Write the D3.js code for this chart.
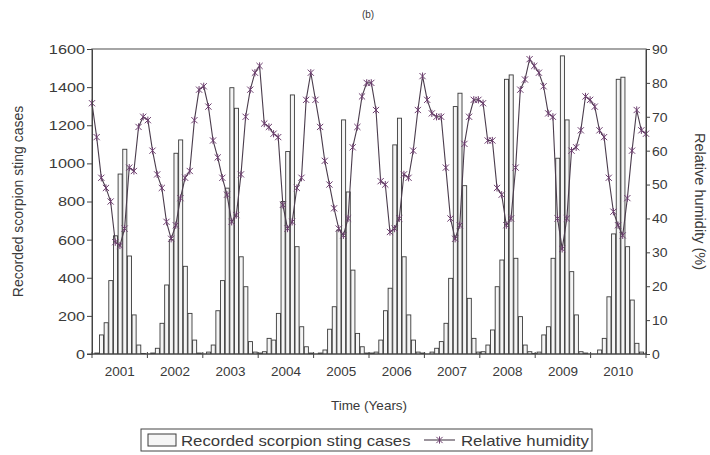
<!DOCTYPE html>
<html>
<head>
<meta charset="utf-8">
<script src="https://cdn.jsdelivr.net/npm/d3@7"></script>
<style>
  body { margin: 0; background: #fff; }
  text { font-family: "Liberation Sans", Arial, sans-serif; fill: #3a3a3a; }
</style>
</head>
<body>
<svg id="chart" width="710" height="455"></svg>
<script>
// Monthly scorpion sting cases and relative humidity, Jan 2001 – Dec 2010
const years = ["2001", "2002", "2003", "2004", "2005", "2006", "2007", "2008", "2009", "2010"];

const stingCases = [
  0, 5, 100, 164, 385, 620, 944, 1074, 514, 205, 47, 3,
  0, 5, 30, 161, 362, 600, 1053, 1123, 460, 213, 73, 5,
  0, 10, 47, 227, 385, 870, 1397, 1289, 510, 353, 65, 10,
  5, 12, 82, 73, 213, 800, 1062, 1359, 563, 143, 38, 5,
  0, 5, 21, 130, 248, 650, 1228, 850, 440, 108, 38, 5,
  5, 10, 73, 227, 345, 1097, 1237, 510, 205, 73, 10, 5,
  0, 10, 30, 65, 161, 397, 1298, 1368, 883, 292, 82, 10,
  12, 47, 126, 353, 493, 1441, 1464, 502, 196, 47, 12, 3,
  10, 100, 143, 502, 1027, 1564, 1228, 432, 205, 12, 5, 0,
  0, 21, 82, 300, 630, 1441, 1452, 563, 283, 56, 10, 0
];

const relativeHumidity = [
  74, 64, 52, 49, 45, 33, 32, 37, 55, 54, 67, 70,
  69, 60, 53, 49, 39, 34, 38, 46, 52, 54, 69, 78,
  79, 73, 63, 58, 52, 47, 39, 41, 53, 70, 78, 83,
  85, 68, 67, 65, 64, 44, 37, 39, 49, 52, 75, 83,
  75, 67, 57, 50, 43, 37, 35, 40, 61, 67, 76, 80,
  80, 72, 51, 50, 36, 37, 40, 53, 52, 60, 72, 82,
  75, 71, 70, 70, 55, 40, 34, 38, 62, 70, 75, 75,
  74, 63, 63, 49, 47, 38, 40, 55, 78, 81, 87, 85,
  83, 79, 71, 70, 40, 31, 40, 60, 61, 66, 76, 75,
  73, 66, 64, 52, 42, 38, 35, 46, 60, 72, 66, 65
];

const casesTicks = [0, 200, 400, 600, 800, 1000, 1200, 1400, 1600];
const humidityTicks = [0, 10, 20, 30, 40, 50, 60, 70, 80, 90];

const svg = d3.select("#chart");
const plot = { left: 92, right: 646, top: 49, bottom: 354 };
const axisColor = "#444";
const lineColor = "#4a3c4c";
const markerColor = "#6d3f6f";

const x = d3.scalePoint()
  .domain(d3.range(stingCases.length))
  .range([plot.left, plot.right]);
const yearBand = d3.scaleBand().domain(years).range([plot.left, plot.right]);
const yCases = d3.scaleLinear().domain([0, 1600]).range([plot.bottom, plot.top]);
const yHum = d3.scaleLinear().domain([0, 90]).range([plot.bottom, plot.top]);

svg.append("defs").append("clipPath").attr("id", "plot-clip")
  .append("rect")
  .attr("x", plot.left).attr("y", plot.top - 10)
  .attr("width", plot.right - plot.left).attr("height", plot.bottom - plot.top + 10);

// frame
svg.append("rect")
  .attr("x", plot.left).attr("y", plot.top)
  .attr("width", plot.right - plot.left).attr("height", plot.bottom - plot.top)
  .attr("fill", "none").attr("stroke", "#808080").attr("stroke-width", 1.4);

// bars
const bw = x.step();
svg.append("g").attr("clip-path", "url(#plot-clip)")
  .selectAll("rect").data(stingCases).join("rect")
  .attr("x", (d, i) => x(i) - bw / 2 + 0.5)
  .attr("y", d => yCases(d))
  .attr("width", bw - 0.6)
  .attr("height", d => yCases(0) - yCases(d))
  .attr("fill", "#f5f5f5")
  .attr("stroke", "#3a3a3a")
  .attr("stroke-width", 0.9);

// humidity line
const line = d3.line().x((d, i) => x(i)).y(d => yHum(d));
svg.append("path").datum(relativeHumidity)
  .attr("d", line).attr("fill", "none")
  .attr("stroke", lineColor).attr("stroke-width", 1.1);

const star = "M-3.1,-3.1L3.1,3.1M-3.1,3.1L3.1,-3.1M0,-3.6L0,3.6";
svg.append("g").selectAll("path").data(relativeHumidity).join("path")
  .attr("transform", (d, i) => `translate(${x(i)},${yHum(d)})`)
  .attr("d", star).attr("fill", "none")
  .attr("stroke", markerColor).attr("stroke-width", 1);

// wide-set tick labels: text is stretched horizontally about its anchor
function stretchLabels(g, sx, anchorX, anchor) {
  g.selectAll(".tick text")
    .attr("x", null).attr("dy", "0.35em")
    .attr("text-anchor", anchor)
    .attr("font-size", 12.5).attr("fill", "#3a3a3a")
    .attr("font-family", "\"Liberation Sans\", Arial, sans-serif")
    .attr("transform", `translate(${anchorX},0) scale(${sx},1)`);
}

// left axis
const leftAxis = d3.axisLeft(yCases).tickValues(casesTicks)
  .tickFormat(d3.format("d")).tickSize(5);
const gl = svg.append("g").attr("transform", `translate(${plot.left},0)`).call(leftAxis);
stretchLabels(gl, 1.3, -7, "end");

// right axis
const rightAxis = d3.axisRight(yHum).tickValues(humidityTicks)
  .tickFormat(d3.format("d")).tickSize(4);
const gr = svg.append("g").attr("transform", `translate(${plot.right},0)`).call(rightAxis);
stretchLabels(gr, 1.12, 6, "start");

[gl, gr].forEach(g => {
  g.select(".domain").attr("stroke", axisColor);
  g.selectAll(".tick line").attr("stroke", axisColor);
});

// bottom axis: year boundaries as ticks, names centred in each year
const yearEdges = years.map(y => yearBand(y)).concat([plot.right]);
const gb = svg.append("g");
gb.append("line").attr("x1", plot.left - 5).attr("x2", plot.right)
  .attr("y1", plot.bottom).attr("y2", plot.bottom);
gb.selectAll("line.tick").data(yearEdges).join("line").attr("class", "tick")
  .attr("x1", d => d).attr("x2", d => d)
  .attr("y1", plot.bottom - 2).attr("y2", plot.bottom + 4);
gb.selectAll("line").attr("stroke", axisColor);
gb.selectAll("text").data(years).join("text")
  .attr("transform", d => `translate(${yearBand(d) + yearBand.bandwidth() / 2},${plot.bottom + 22}) scale(1.08,1)`)
  .attr("text-anchor", "middle")
  .attr("font-size", 12.5)
  .text(d => d);

// titles
svg.append("text").attr("x", 368).attr("y", 18).attr("text-anchor", "middle")
  .attr("font-size", 10).text("(b)");
svg.append("text").attr("transform", "translate(369,410) scale(1.08,1)")
  .attr("text-anchor", "middle")
  .attr("font-size", 12.5).text("Time (Years)");
svg.append("text")
  .attr("transform", `translate(23,${(plot.top + plot.bottom) / 2}) rotate(-90)`)
  .attr("text-anchor", "middle").attr("font-size", 14)
  .text("Recorded scorpion sting cases");
svg.append("text")
  .attr("transform", `translate(695,${(plot.top + plot.bottom) / 2}) rotate(90)`)
  .attr("text-anchor", "middle").attr("font-size", 14.5)
  .text("Relative humidity (%)");

// legend
const lg = svg.append("g");
lg.append("rect").attr("x", 141).attr("y", 429).attr("width", 451).attr("height", 22)
  .attr("fill", "#fff").attr("stroke", "#444").attr("stroke-width", 1);
lg.append("rect").attr("x", 148).attr("y", 434).attr("width", 28).attr("height", 12)
  .attr("fill", "#f5f5f5").attr("stroke", "#3a3a3a");
lg.append("text").attr("transform", "translate(181,445.5) scale(1.2,1)").attr("font-size", 14)
  .text("Recorded scorpion sting cases");
lg.append("line").attr("x1", 424).attr("x2", 455).attr("y1", 440).attr("y2", 440)
  .attr("stroke", lineColor).attr("stroke-width", 1.1);
lg.append("path").attr("transform", "translate(439.5,440)").attr("d", star)
  .attr("fill", "none").attr("stroke", markerColor);
lg.append("text").attr("transform", "translate(461,445.5) scale(1.2,1)").attr("font-size", 14)
  .text("Relative humidity");
</script>
</body>
</html>
